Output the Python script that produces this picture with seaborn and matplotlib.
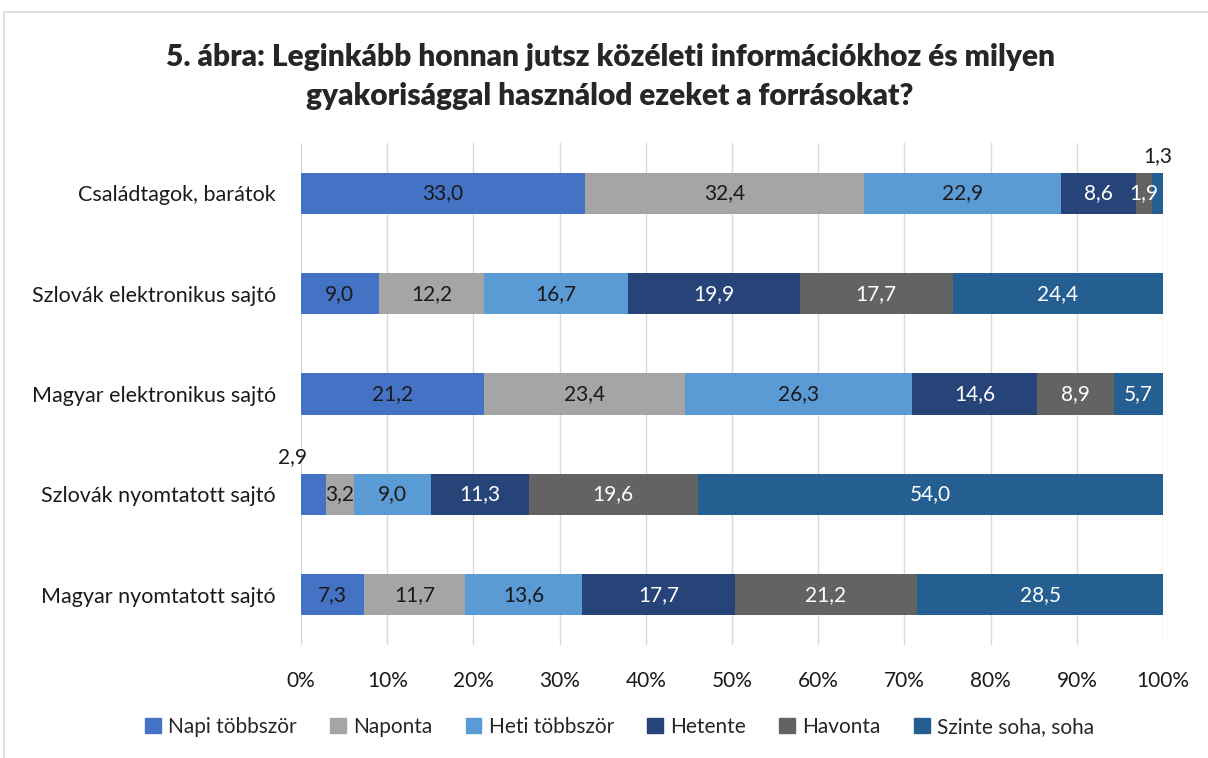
import numpy as np
import matplotlib
matplotlib.use("Agg")
import matplotlib.pyplot as plt
import seaborn as sns
from matplotlib.patches import Rectangle

# ---------------- DATA ----------------
categories = ["Családtagok, barátok", "Szlovák elektronikus sajtó", "Magyar elektronikus sajtó",
              "Szlovák nyomtatott sajtó", "Magyar nyomtatott sajtó"]
series = ["Napi többször", "Naponta", "Heti többször", "Hetente", "Havonta", "Szinte soha, soha"]
napi_tobbszor = [33.0, 9.0, 21.2, 2.9, 7.3]
naponta = [32.4, 12.2, 23.4, 3.2, 11.7]
heti_tobbszor = [22.9, 16.7, 26.3, 9.0, 13.6]
hetente = [8.6, 19.9, 14.6, 11.3, 17.7]
havonta = [1.9, 17.7, 8.9, 19.6, 21.2]
szinte_soha = [1.3, 24.4, 5.7, 54.0, 28.5]

colors = ["#4472C4", "#A5A5A5", "#5B9BD5", "#264478", "#636363", "#255E91"]
label_colors = ["#1A1A1A", "#1A1A1A", "#1A1A1A", "white", "white", "white"]

vals = np.array([napi_tobbszor, naponta, heti_tobbszor, hetente, havonta, szinte_soha])
pct = vals / vals.sum(axis=0) * 100  # 100% halmozott
cum = np.cumsum(pct, axis=0)

# ---------------- PLOT ----------------
sns.set_style("white")
plt.rcParams["font.family"] = ["Lato", "DejaVu Sans"]

fig = plt.figure(figsize=(12.08, 7.58), dpi=100)
ax = fig.add_axes([0.2492, 0.1491, 0.7136, 0.6622])

# stacked: draw cumulative bars from the back
for i in range(len(series) - 1, -1, -1):
    sns.barplot(x=cum[i], y=categories, color=colors[i], width=0.41, orient="h",
                ax=ax, saturation=1, edgecolor="none")

# value labels
fs = 15
outside = {(0, 5): 0, (3, 0): -15}
for i in range(len(series)):
    for j in range(len(categories)):
        start = cum[i][j] - pct[i][j]
        xc = start + pct[i][j] / 2
        txt = f"{vals[i][j]:.1f}".replace(".", ",")
        if (j, i) in outside:
            ax.annotate(txt, (xc, j - 0.205), xytext=(outside[(j, i)], 5),
                        textcoords="offset points", ha="center", va="bottom",
                        fontsize=fs, color="#1A1A1A")
        else:
            ax.text(xc, j, txt, ha="center", va="center", fontsize=fs, color=label_colors[i])

ax.set_xlim(0, 100)
ax.set_ylim(4.5, -0.5)
ax.set_xticks(np.arange(0, 101, 10))
ax.set_xticklabels([f"{t}%" for t in range(0, 101, 10)], fontsize=fs, color="#1A1A1A")
ax.tick_params(axis="y", labelsize=15.5, labelcolor="#1A1A1A", length=0, pad=18)
ax.tick_params(axis="x", length=0, pad=19)
ax.set_xlabel("")
ax.set_ylabel("")
ax.xaxis.grid(True, color="#D9D9D9", linewidth=1)
ax.set_axisbelow(True)
for s in ax.spines.values():
    s.set_visible(False)

fig.suptitle("5. ábra: Leginkább honnan jutsz közéleti információkhoz és milyen\n"
             "gyakorisággal használod ezeket a forrásokat?",
             x=0.505, y=0.943, fontsize=21.5, fontweight="heavy", linespacing=1.45)

handles = [Rectangle((0, 0), 1, 1, color=c) for c in colors]
fig.legend(handles, series, loc="center", bbox_to_anchor=(0.513, 0.041), ncol=6,
           frameon=False, fontsize=fs, handlelength=0.75, handleheight=0.75,
           handletextpad=0.35, columnspacing=1.6)

# chart frame
fig.patches.append(Rectangle((4 / 1208, -0.1), 1.2, 1 - 12 / 758 + 0.1, transform=fig.transFigure,
                             fill=False, edgecolor="#D9D9D9", linewidth=1.2))

fig.savefig("out.png", dpi=100)
